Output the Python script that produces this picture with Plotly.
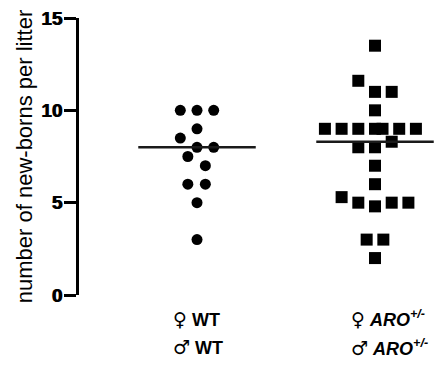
import numpy as np
import plotly.graph_objects as go

# ---- data ----
groups = ["WT", "ARO"]
group_pos = [1, 2]
wt_values = [10, 10, 10, 9, 8.5, 8, 8, 7.5, 7, 6, 6, 5, 3]
wt_slots = [-1, 0, 1, 0, -1, 0, 1, -0.55, 0.5, -0.55, 0.5, 0, 0]
aro_values = [13.5, 11.6, 11, 11, 10, 9, 9, 9, 9, 9, 9, 9, 8.3, 8, 8, 7, 6, 5.3, 5, 5, 5, 4.8, 3, 3, 2]
aro_slots = [0, -1, 0, 1, 0, -3, -2, -1, 0, 0.45, 1.45, 2.45, 1, -1, 0, 0, 0, -2, -1, 1, 2, 0, -0.5, 0.5, 0]
y_ticks = [0, 5, 10, 15]
y_ticktext = ["0", "5", "10", "15"]
y_title = "number of new-borns per litter"

SLOT = 0.0938
HALF = 0.33

fig = go.Figure()

fig.add_trace(go.Scatter(
    x=[group_pos[0] + s * SLOT for s in wt_slots], y=wt_values, mode="markers",
    marker=dict(symbol="circle", size=11, color="black", line=dict(width=0)),
    showlegend=False, hoverinfo="y"))
fig.add_trace(go.Scatter(
    x=[group_pos[1] + s * SLOT for s in aro_slots], y=aro_values, mode="markers",
    marker=dict(symbol="square", size=12, color="black", line=dict(width=0)),
    showlegend=False, hoverinfo="y"))

for pos, vals in zip(group_pos, [wt_values, aro_values]):
    med = float(np.median(vals))
    fig.add_trace(go.Scatter(
        x=[pos - HALF, pos + HALF], y=[med, med], mode="lines",
        line=dict(color="#1a1a1a", width=2.5), showlegend=False, hoverinfo="skip"))

lab_font = dict(family="Liberation Sans, Arial, DejaVu Sans", size=18, color="black")
fem = '<span style="font-family:DejaVu Sans;font-size:19px"><b>♀</b></span>'
mal = '<span style="font-family:DejaVu Sans;font-size:19px"><b>♂</b></span>'
labels = [
    (fem + " <b>WT</b>", mal + " <b>WT</b>"),
    (fem + " <b><i>ARO</i></b><sup><b><i>+/-</i></b></sup>", mal + " <b><i>ARO</i></b><sup><b><i>+/-</i></b></sup>"),
]
for pos, (l1, l2) in zip(group_pos, labels):
    for txt, yy in [(l1, -0.0866), (l2, -0.188)]:
        fig.add_annotation(x=pos - 0.145, y=yy, xref="x", yref="paper", text=txt,
                           showarrow=False, xanchor="left", yanchor="middle", font=lab_font)

fig.update_xaxes(range=[0.337, 2.382], visible=False, showgrid=False, zeroline=False, automargin=False)
fig.update_yaxes(
    range=[0, 15], tickvals=y_ticks, ticktext=["<b>%s</b>" % t for t in y_ticktext],
    showline=True, linewidth=3, linecolor="black",
    ticks="outside", ticklen=12, tickwidth=3, tickcolor="black",
    tickfont=dict(family="Liberation Sans, Arial", size=19, color="black", weight="bold",
                  shadow="0.8px 0 0 black"),
    ticklabeloverflow="allow", ticklabelstandoff=-2,
    showgrid=False, zeroline=False, automargin=False,
    title=dict(text=y_title, font=dict(family="Liberation Sans, Arial", size=22, color="black"), standoff=3),
)
# page body adds an 8px offset; margins compensate so the plot area lands where the reference has it
fig.update_layout(
    width=443, height=374, margin=dict(l=71, r=8, t=10, b=87),
    plot_bgcolor="white", paper_bgcolor="white", showlegend=False,
)
fig.write_html("out.html")
